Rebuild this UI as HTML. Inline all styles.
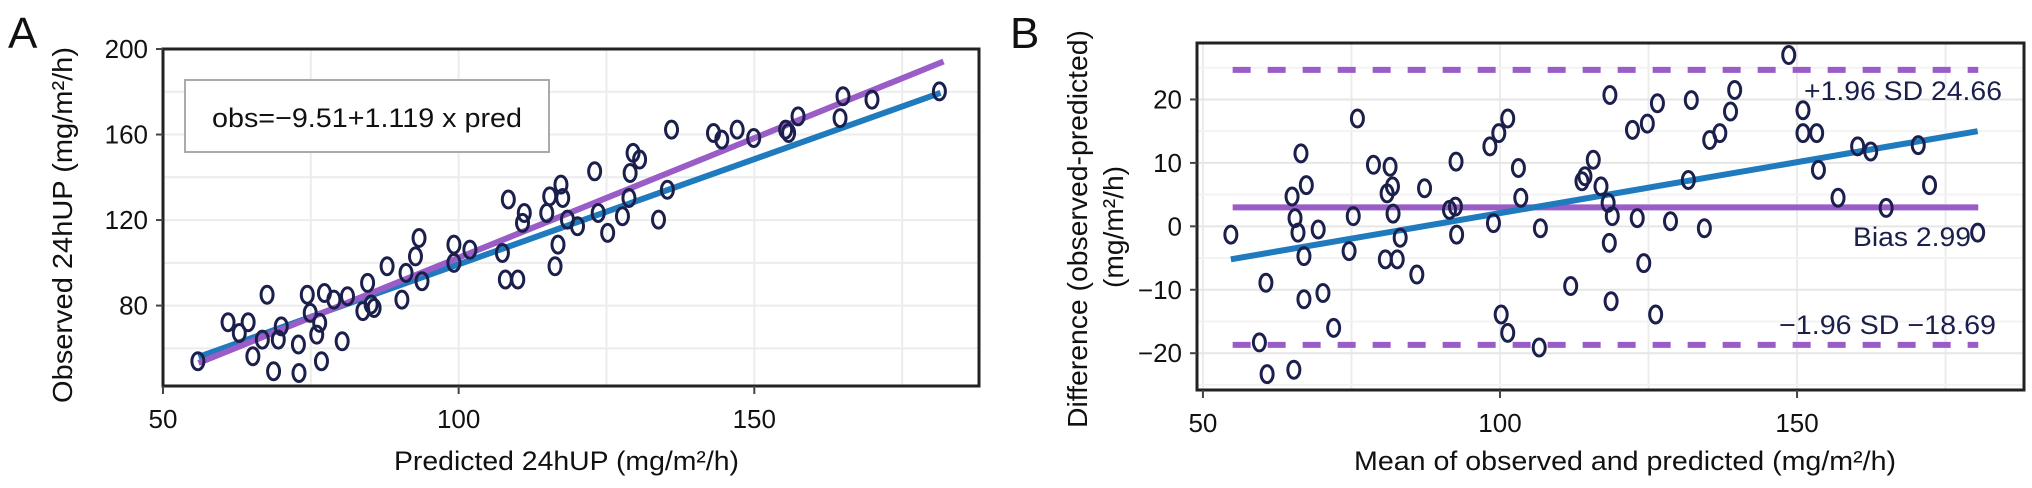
<!DOCTYPE html>
<html><head><meta charset="utf-8"><style>
html,body{margin:0;padding:0;background:#fff;}
svg{display:block;font-family:"Liberation Sans",Arial,sans-serif;}
</style></head><body>
<svg id="fig" width="2032" height="488" viewBox="0 0 2032 488">
<g id="panelA"></g>
<g id="panelB"></g>
</svg>
<script>
// Panel A data
const aPred = [55.9,61,62.9,64.4,65.2,66.8,67.6,68.7,69.5,70,72.9,73,74.4,74.9,76,76.5,76.8,77.3,78.9,80.3,81.2,83.8,84.6,85.2,85.7,87.9,90.4,91.1,92.7,93.3,93.8,99.2,99.2,101.9,107.4,107.9,108.4,110,110.8,111.1,114.9,115.4,116.3,116.8,117.3,117.6,118.4,120.1,123,123.6,125.2,127.7,128.8,129,129.5,130.6,133.8,135.3,136,143.1,144.5,147.1,149.9,155.3,155.8,157.4,164.5,165,169.9,181.3];
const aObs = [54,72.2,67.2,72.2,56.3,64.1,85.1,49.3,64.1,70.3,61.8,48.5,85.1,76.6,66.4,71.9,54,85.9,82.8,63.3,84.4,77.4,90.6,80.5,78.9,98.4,82.8,95.3,103,111.6,91.4,108.5,100,106.2,104.6,92.2,129.6,92.2,118.7,123.3,123.3,131.1,98.4,108.5,136.6,130.3,120.2,117.1,142.8,123.3,114,121.8,130.3,142,151.4,148.3,120.2,134.2,162.3,160.7,157.6,162.3,158.4,162.3,160.7,168.5,167.7,177.9,176.3,180.2];
const aXTicks = [50,100,150];
const aYTicks = [80,120,160,200];
const aFit = [-9.51, 1.119]; // intercept, slope
const aRange = [56, 182];
// Panel B data
const bMean = [54.7,59.5,60.6,60.8,65,65.3,65.5,66,66.5,67,67,67.4,69.4,70.2,72,74.6,75.3,76,78.7,80.7,81,81.5,81.9,82,82.7,83.2,86,87.3,91.5,92.5,92.6,92.7,98.3,98.9,99.8,100.2,101.3,101.3,103.1,103.5,106.6,106.8,111.9,113.8,114.3,115.7,117,118.2,118.4,118.5,118.7,118.9,122.3,123.1,124.2,124.8,126.2,126.5,128.7,131.7,132.2,134.4,135.3,137,138.8,139.5,148.6,151,151,153.3,153.6,156.9,160.2,162.4,165,170.4,172.3,180.4];
const bDiff = [-1.3,-18.3,-8.9,-23.3,4.7,-22.6,1.3,-1,11.5,-4.7,-11.5,6.5,-0.5,-10.5,-16,-3.9,1.6,17,9.7,-5.2,5.2,9.4,6.3,2,-5.2,-1.8,-7.6,6,2.6,3.1,10.2,-1.3,12.6,0.5,14.7,-13.9,17,-16.8,9.2,4.5,-19.1,-0.3,-9.4,7.1,7.9,10.5,6.3,3.7,-2.6,20.7,-11.8,1.6,15.2,1.3,-5.8,16.2,-13.9,19.4,0.8,7.3,19.9,-0.3,13.6,14.7,18.1,21.5,27,18.3,14.7,14.7,8.9,4.5,12.6,11.8,2.9,12.8,6.5,-1];
const bXTicks = [50,100,150];
const bYTicks = [-20,-10,0,10,20];
const bBias = [2.99];
const bLoA = [24.66, -18.69];
const bTrend = [[54.7,-5.2],[180.4,15]];
const bRange = [55, 180.5];

const NS='http://www.w3.org/2000/svg';
function mk(parent, tag, attrs, text){
  const e=document.createElementNS(NS,tag);
  for(const k in attrs) e.setAttribute(k,attrs[k]);
  if(text!==undefined) e.textContent=text;
  parent.appendChild(e); return e;
}
const PURPLE='#9a5cc6', BLUE='#1f7bbd', NAVY='#1b1f4b', GRID='#ececec';

// ---------- Panel A ----------
(function(){
  const g=document.getElementById('panelA');
  const L=163,R=979,T=49,B=386, x0=50,x1=188, y0=42.4,y1=200;
  const X=v=>L+(v-x0)/(x1-x0)*(R-L), Y=v=>B-(v-y0)/(y1-y0)*(B-T);
  for(let v=50; v<=175; v+=25){const l=mk(g,'line',{x1:X(v),x2:X(v),y1:T,y2:B,stroke:GRID,'stroke-width':2});
     }
  for(let v=60; v<=200; v+=20){const l=mk(g,'line',{x1:L,x2:R,y1:Y(v),y2:Y(v),stroke:GRID,'stroke-width':2});
     }
  const box=mk(g,'rect',{x:185,y:80,width:364,height:72,fill:'#fff',stroke:'#aaa','stroke-width':2});
   
  const eq=mk(g,'text',{x:212,y:127,'font-size':27,textLength:310,lengthAdjust:'spacingAndGlyphs',fill:'#111'},'obs=\u22129.51+1.119 x pred');
   
  const bl=mk(g,'line',{x1:X(aRange[0]),y1:Y(aRange[0]),x2:X(181.5),y2:Y(179.5),stroke:BLUE,'stroke-width':6});
   
  const pl=mk(g,'line',{x1:X(aRange[0]),y1:Y(aFit[0]+aFit[1]*aRange[0]),x2:X(aRange[1]),y2:Y(aFit[0]+aFit[1]*aRange[1]),stroke:PURPLE,'stroke-width':6});
   
  aPred.forEach((p,i)=>{const c=mk(g,'ellipse',{cx:X(p),cy:Y(aObs[i]),rx:6,ry:8.5,fill:'none',stroke:NAVY,'stroke-width':3});
     });
  const fr=mk(g,'rect',{x:L,y:T,width:R-L,height:B-T,fill:'none',stroke:'#222','stroke-width':3});
   
  aXTicks.forEach(v=>{mk(g,'line',{x1:X(v),x2:X(v),y1:B,y2:B+8,stroke:'#444','stroke-width':2});
    const t=mk(g,'text',{x:X(v),y:B+42,'font-size':26,'text-anchor':'middle',fill:'#111'},v);
     });
  aYTicks.forEach(v=>{mk(g,'line',{x1:L-7,x2:L,y1:Y(v),y2:Y(v),stroke:'#444','stroke-width':2});
    const t=mk(g,'text',{x:L-15,y:Y(v)+9,'font-size':26,'text-anchor':'end',fill:'#111'},v);
     });
  const xt=mk(g,'text',{x:394,y:470,'font-size':27,textLength:345,lengthAdjust:'spacingAndGlyphs',fill:'#111'},'Predicted 24hUP (mg/m\u00b2/h)');
   
  const yt=mk(g,'text',{x:-178,y:0,'font-size':28,textLength:356,lengthAdjust:'spacingAndGlyphs',fill:'#111',transform:'translate(72,225) rotate(-90)'},'Observed 24hUP (mg/m\u00b2/h)');
   
  const lab=mk(g,'text',{x:8,y:48,'font-size':44,fill:'#111'},'A');
   
})();

// ---------- Panel B ----------
(function(){
  const g=document.getElementById('panelB');
  const L=1197,R=2024,T=43,B=390, x0=49,x1=188.2, y0=-25.8,y1=28.9;
  const X=v=>L+(v-x0)/(x1-x0)*(R-L), Y=v=>B-(v-y0)/(y1-y0)*(B-T);
  for(let v=50; v<=175; v+=25){const l=mk(g,'line',{x1:X(v),x2:X(v),y1:T,y2:B,stroke:GRID,'stroke-width':2});
     }
  for(let v=-25; v<=25; v+=5){const l=mk(g,'line',{x1:L,x2:R,y1:Y(v),y2:Y(v),stroke:v%10===0?'#e6e6e6':'#f3f3f3','stroke-width':2});
     }
  bLoA.forEach(v=>{const l=mk(g,'line',{x1:X(bRange[0]),x2:X(bRange[1]),y1:Y(v),y2:Y(v),stroke:PURPLE,'stroke-width':6,'stroke-dasharray':'18 17'});
     });
  const bb=mk(g,'line',{x1:X(bRange[0]),x2:X(bRange[1]),y1:Y(bBias[0]),y2:Y(bBias[0]),stroke:PURPLE,'stroke-width':6});
   
  const tr=mk(g,'line',{x1:X(bTrend[0][0]),y1:Y(bTrend[0][1]),x2:X(bTrend[1][0]),y2:Y(bTrend[1][1]),stroke:BLUE,'stroke-width':6});
   
  bMean.forEach((m,i)=>{const c=mk(g,'ellipse',{cx:X(m),cy:Y(bDiff[i]),rx:6,ry:8.5,fill:'none',stroke:NAVY,'stroke-width':3});
     });
  const a1=mk(g,'text',{x:1804,y:100,'font-size':27,textLength:198,lengthAdjust:'spacingAndGlyphs',fill:NAVY},'+1.96 SD '+bLoA[0].toFixed(2));
   
  const a2=mk(g,'text',{x:1853,y:246,'font-size':27,textLength:118,lengthAdjust:'spacingAndGlyphs',fill:NAVY},'Bias '+bBias[0].toFixed(2));
   
  const a3=mk(g,'text',{x:1779,y:334,'font-size':27,textLength:217,lengthAdjust:'spacingAndGlyphs',fill:NAVY},'\u22121.96 SD \u2212'+Math.abs(bLoA[1]).toFixed(2));
   
  const fr=mk(g,'rect',{x:L,y:T,width:R-L,height:B-T,fill:'none',stroke:'#222','stroke-width':3});
   
  bXTicks.forEach(v=>{mk(g,'line',{x1:X(v),x2:X(v),y1:B,y2:B+8,stroke:'#444','stroke-width':2});
    const t=mk(g,'text',{x:X(v),y:B+42,'font-size':26,'text-anchor':'middle',fill:'#111'},v);
     });
  bYTicks.forEach(v=>{mk(g,'line',{x1:L-7,x2:L,y1:Y(v),y2:Y(v),stroke:'#444','stroke-width':2});
    const t=mk(g,'text',{x:L-15,y:Y(v)+9,'font-size':26,'text-anchor':'end',fill:'#111'},v<0?'\u2212'+Math.abs(v):v);
     });
  const xt=mk(g,'text',{x:1354,y:470,'font-size':27,textLength:542,lengthAdjust:'spacingAndGlyphs',fill:'#111'},'Mean of observed and predicted (mg/m\u00b2/h)');
   
  const yt=mk(g,'text',{x:-199,y:0,'font-size':28,textLength:398,lengthAdjust:'spacingAndGlyphs',fill:'#111',transform:'translate(1087,229) rotate(-90)'},'Difference (observed-predicted)');
   
  const yt2=mk(g,'text',{x:-61,y:0,'font-size':28,textLength:122,lengthAdjust:'spacingAndGlyphs',fill:'#111',transform:'translate(1123,227) rotate(-90)'},'(mg/m\u00b2/h)');
   
  const lab=mk(g,'text',{x:1010,y:48,'font-size':44,fill:'#111'},'B');
   
})();
</script>
</body></html>
